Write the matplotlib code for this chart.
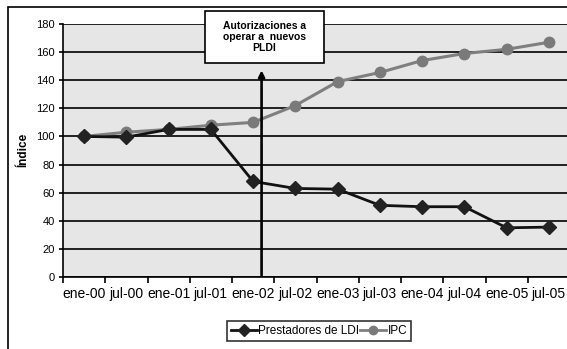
import numpy as np
import matplotlib
matplotlib.use('Agg')
import matplotlib.pyplot as plt
from matplotlib.patches import Rectangle
from matplotlib.lines import Line2D

params = {'font.family': ['Liberation Sans', 'DejaVu Sans'],
          'axes.linewidth': 1.2}
matplotlib.rcParams.update(params)

# data
periodos = ['ene-00', 'jul-00', 'ene-01', 'jul-01', 'ene-02', 'jul-02',
            'ene-03', 'jul-03', 'ene-04', 'jul-04', 'ene-05', 'jul-05']
ldi = [100, 99.5, 105, 105, 68, 63, 62.5, 51, 50, 50, 35, 35.5]
ipc = [100, 103, 105, 108, 110, 122, 139, 145.5, 154, 159, 162, 167]
evento_x = 4.7      # position of the "Autorizaciones" event on the category axis
evento_txt = 'Autorizaciones a\noperar a  nuevos\nPLDI'

W, H = 567, 349
fig = plt.figure(figsize=(W / 100, H / 100), dpi=100)
ax = fig.add_axes([63 / W, 1 - 277 / H, 507 / W, 253 / H])
ax.set_facecolor('#e6e6e6')

x = np.arange(len(periodos)) + 0.5
ax.plot(x, ipc, color='#7f7f7f', lw=2.2, marker='o', ms=7.5, mfc='#7a7a7a',
        mec='#7a7a7a', zorder=3, label='IPC')
ax.plot(x, ldi, color='#111111', lw=2, marker='D', ms=7, mfc='#222222',
        mec='#222222', zorder=4, label='Prestadores de LDI')

ax.set_xlim(0, len(periodos))
ax.set_ylim(0, 180)
ax.set_yticks(np.arange(0, 181, 20))
ax.yaxis.grid(True, color='black', lw=1.2)
ax.set_axisbelow(True)
ax.set_xticks(np.arange(len(periodos) + 1))
ax.set_xticklabels([])
ax.set_xticks(x, minor=True)
ax.set_xticklabels(periodos, minor=True, fontsize=10)
ax.tick_params(axis='x', which='major', length=4, width=1.2, direction='out')
ax.tick_params(axis='x', which='minor', length=0, pad=7)
ax.tick_params(axis='y', length=3, width=1.2, labelsize=8, pad=3)
ax.spines['top'].set_visible(False)
ax.spines['right'].set_visible(False)

# event arrow and box
ax.annotate('', xy=(evento_x, 149), xytext=(evento_x, -1),
            arrowprops=dict(arrowstyle='-|>', color='black', lw=1.9,
                            mutation_scale=9), annotation_clip=False, zorder=5)
box = Rectangle((3.36, 152), 2.81, 37.5, facecolor='white', edgecolor='black',
                lw=1.2, clip_on=False, zorder=6)
ax.add_patch(box)
ax.text(3.36 + 2.81 / 2, 152 + 37.5 / 2, evento_txt, ha='center', va='center',
        fontsize=7.5, fontweight='bold', linespacing=1.15, zorder=7)

fig.text(23 / W, 1 - 150 / H, 'Índice', rotation=90, ha='center', va='center',
         fontsize=8.5, fontweight='bold')

handles = [Line2D([], [], color='#111111', lw=2, marker='D', ms=6, mfc='#222222', mec='#222222'),
           Line2D([], [], color='#7f7f7f', lw=2, marker='o', ms=6, mfc='#7a7a7a', mec='#7a7a7a')]
leg = fig.legend(handles, ['Prestadores de LDI', 'IPC'], ncol=2, loc='center',
                 bbox_to_anchor=(319 / W, 1 - 331 / H), fontsize=8.5, frameon=True,
                 fancybox=False, edgecolor='black', handlelength=2.2,
                 handletextpad=0.1, columnspacing=0.1, borderpad=0.35,
                 borderaxespad=0)
leg.get_frame().set_linewidth(1.2)

# outer chart frame (cropped at right and bottom)
fig.patches.append(Rectangle((8 / W, -0.1), 1.2, 1 - 7 / H + 0.1, transform=fig.transFigure,
                             fill=False, edgecolor='black', lw=1.2))

fig.savefig('out.png', dpi=100)
